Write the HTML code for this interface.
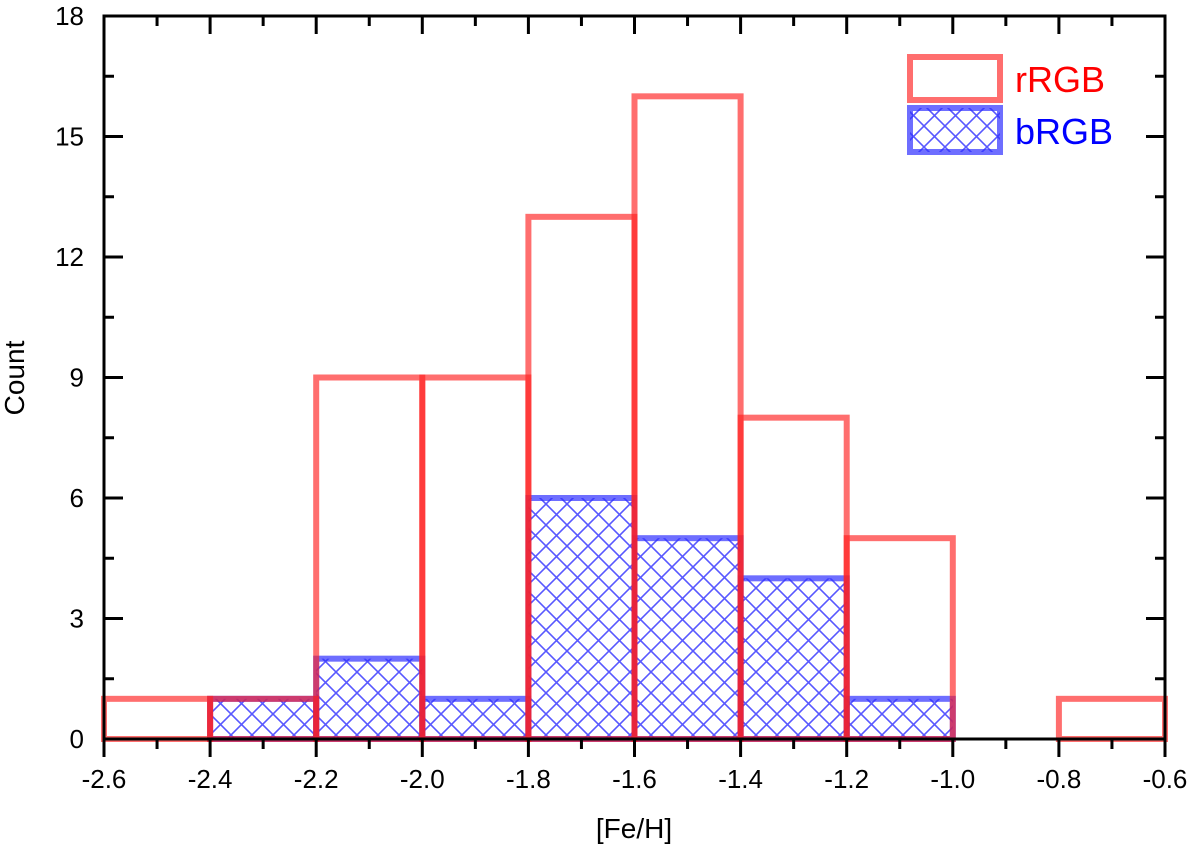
<!DOCTYPE html>
<html><head><meta charset="utf-8"><style>
body{margin:0;background:#fff}
svg text{font-family:"Liberation Sans",Arial,sans-serif}
</style></head><body>
<svg id="chart" width="1200" height="848" xmlns="http://www.w3.org/2000/svg">
<defs>
<pattern id="hatch" patternUnits="userSpaceOnUse" width="21" height="21">
<path d="M0,0 L21,21 M21,0 L0,21" stroke="#2020ff" stroke-width="1.6" stroke-opacity="0.75"/>
</pattern>
</defs>
<g id="bars"></g>
<g id="axes"></g>
</svg>
<script>
const binStarts=[-2.6,-2.4,-2.2,-2.0,-1.8,-1.6,-1.4,-1.2,-1.0,-0.8];
const rCounts=[1,1,9,9,13,16,8,5,0,1];
const bCounts=[0,1,2,1,6,5,4,1,0,0];
const xTicks=[-2.6,-2.4,-2.2,-2.0,-1.8,-1.6,-1.4,-1.2,-1.0,-0.8,-0.6];
const yTicks=[0,3,6,9,12,15,18];
const binW=0.2;
const X0=104,X1=1165,Y0=739,Y1=16;
const xs=v=>X0+(v+2.6)/2.0*(X1-X0);
const ys=v=>Y0-v/18*(Y0-Y1);
const NS='http://www.w3.org/2000/svg';
function mk(t,a,p){const e=document.createElementNS(NS,t);for(const k in a)e.setAttribute(k,a[k]);p.appendChild(e);return e;}
const bars=document.getElementById('bars'),axes=document.getElementById('axes');
binStarts.forEach((s,i)=>{
 if(bCounts[i]>0){
  const r=mk('rect',{x:xs(s),y:ys(bCounts[i]),width:xs(s+binW)-xs(s),height:Y0-ys(bCounts[i]),fill:'url(#hatch)',stroke:'#3030ff','stroke-width':6,'stroke-opacity':0.7},bars);
  
  
 }
});
binStarts.forEach((s,i)=>{
 if(rCounts[i]>0){
  const r=mk('rect',{x:xs(s),y:ys(rCounts[i]),width:xs(s+binW)-xs(s),height:Y0-ys(rCounts[i]),fill:'none',stroke:'#ff2020','stroke-width':6,'stroke-opacity':0.65},bars);
  
  
 }
});
// frame
mk('rect',{x:X0,y:Y1,width:X1-X0,height:Y0-Y1,fill:'none',stroke:'#000','stroke-width':3},axes);
xTicks.forEach((t,i)=>{
 const x=xs(t);
 mk('line',{x1:x,y1:Y0,x2:x,y2:Y0+18,stroke:'#000','stroke-width':3},axes);
 mk('line',{x1:x,y1:Y1,x2:x,y2:Y1+18,stroke:'#000','stroke-width':3},axes);
 if(i<xTicks.length-1){const m=xs(t+0.1);
  mk('line',{x1:m,y1:Y0,x2:m,y2:Y0+10,stroke:'#000','stroke-width':3},axes);
  mk('line',{x1:m,y1:Y1,x2:m,y2:Y1+10,stroke:'#000','stroke-width':3},axes);}
 const tx=mk('text',{x:x,y:788,'font-size':26,'text-anchor':'middle'},axes);tx.textContent=t.toFixed(1);
 
 
});
yTicks.forEach((t,i)=>{
 const y=ys(t);
 mk('line',{x1:X0,y1:y,x2:X0+19,y2:y,stroke:'#000','stroke-width':3},axes);
 mk('line',{x1:X1,y1:y,x2:X1-19,y2:y,stroke:'#000','stroke-width':3},axes);
 if(i<yTicks.length-1){const m=ys(t+1.5);
  mk('line',{x1:X0,y1:m,x2:X0+10,y2:m,stroke:'#000','stroke-width':3},axes);
  mk('line',{x1:X1,y1:m,x2:X1-10,y2:m,stroke:'#000','stroke-width':3},axes);}
 const tx=mk('text',{x:84,y:y+9,'font-size':26,'text-anchor':'end'},axes);tx.textContent=t;
 
 
});
</script>
<svg style="position:absolute;left:0;top:0" width="1200" height="848" xmlns="http://www.w3.org/2000/svg">
<defs><pattern id="hatch2" patternUnits="userSpaceOnUse" width="21" height="21"><path d="M0,0 L21,21 M21,0 L0,21" stroke="#2020ff" stroke-width="1.6" stroke-opacity="0.75"/></pattern></defs>
<text x="634" y="838" font-size="28" text-anchor="middle">[Fe/H]</text>
<text transform="translate(24,378) rotate(-90)" font-size="28" text-anchor="middle">Count</text>
<g>
<rect x="910" y="57" width="90" height="43" fill="none" stroke="#ff2020" stroke-opacity="0.65" stroke-width="6"/>
<text x="1015" y="92" font-size="36" fill="#ff0000">rRGB</text>
<rect x="910" y="108" width="90" height="44" fill="url(#hatch2)" stroke="#3030ff" stroke-opacity="0.7" stroke-width="6"/>
<text x="1015" y="144" font-size="36" fill="#0000ff">bRGB</text>
</g>
</svg>
</body></html>
